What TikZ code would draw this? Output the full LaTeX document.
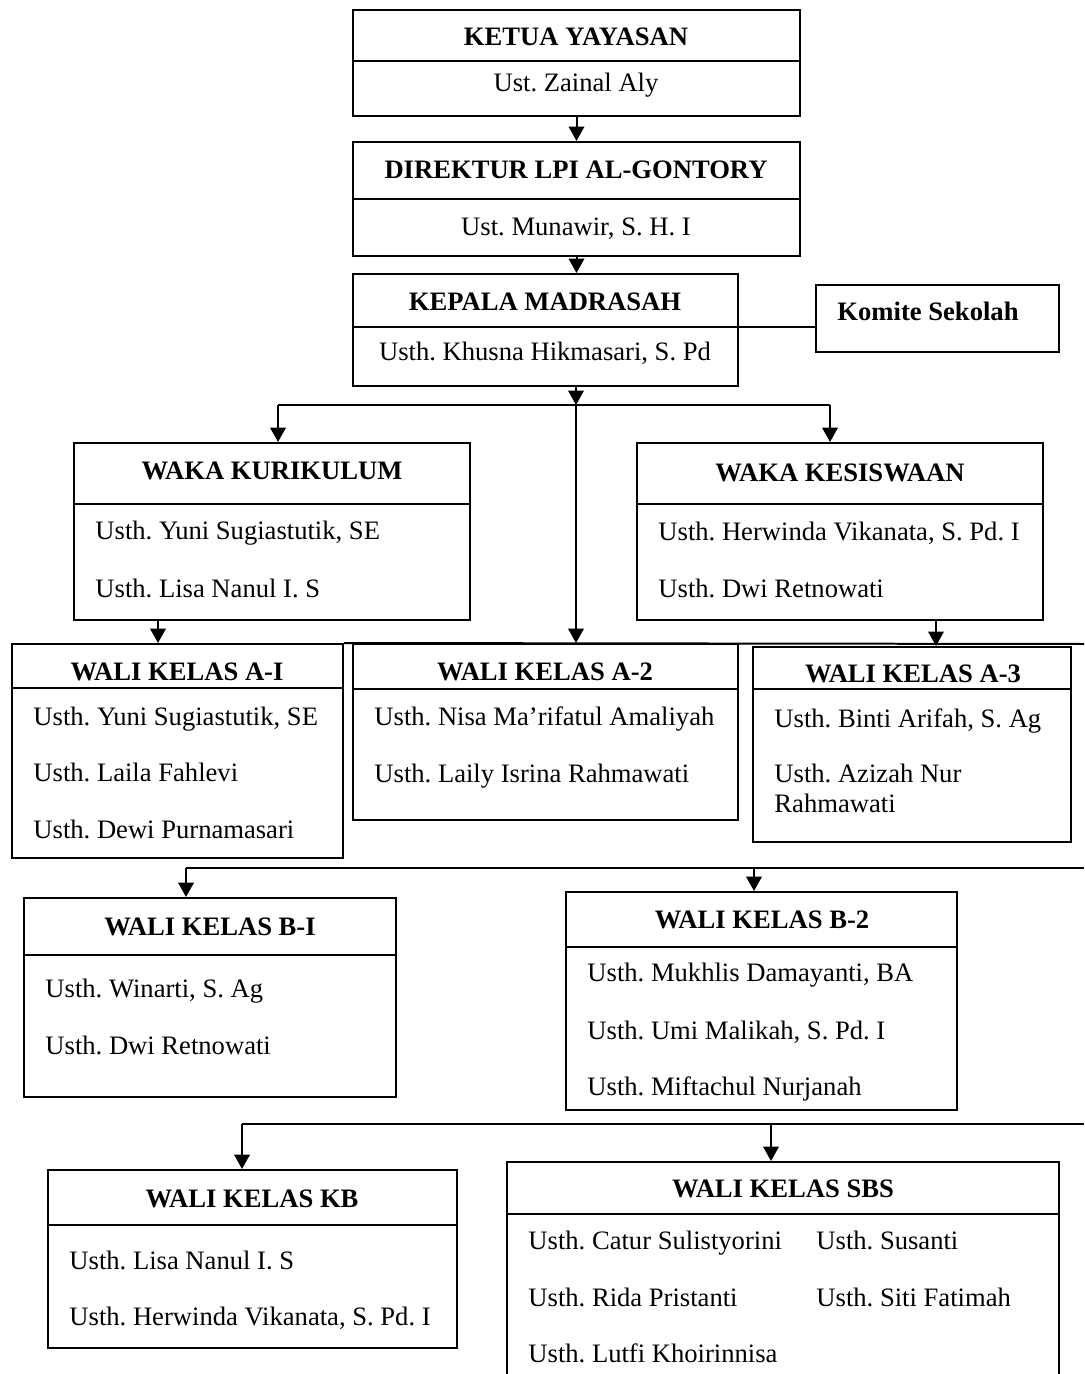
\documentclass[tikz,border=0pt]{standalone}
\usepackage{fontspec}
\setmainfont{Liberation Serif}
\usepackage{tikz}
\usetikzlibrary{arrows.meta,fit}
\frenchspacing

\begin{document}
\begin{tikzpicture}[x=0.451pt, y=-0.451pt,
    font=\fontsize{12}{14}\selectfont,
    box/.style={draw, line width=0.9pt, inner sep=0pt},
    rule/.style={line width=0.9pt},
    title/.style={anchor=base, inner sep=0pt, font=\fontsize{12}{14}\selectfont\bfseries},
    person/.style={anchor=base west, inner sep=0pt},
    arr/.style={line width=0.9pt, -{Triangle[length=6.5pt,width=7pt]}}]
    \useasboundingbox (0,0) rectangle (1084,1374);

    % pimpinan
    \node[box, fit={(353,10) (800,116)}] (ketua) {};
    \draw[rule] (ketua.west |- 0,61) -- (ketua.east |- 0,61);
    \node[title] (ketuaT) at (576,46) {KETUA YAYASAN};
    \node[anchor=base, inner sep=0pt] (ketuaN) at (576,92) {Ust. Zainal Aly};

    \node[box, fit={(353,142) (800,256)}] (dir) {};
    \draw[rule] (dir.west |- 0,199) -- (dir.east |- 0,199);
    \node[title] (dirT) at (576,179) {DIREKTUR LPI AL-GONTORY};
    \node[anchor=base, inner sep=0pt] (dirN) at (576,236) {Ust. Munawir, S. H. I};

    \node[box, fit={(353,274) (738,386)}] (kepala) {};
    \draw[rule] (kepala.west |- 0,327) -- (kepala.east |- 0,327);
    \node[title] (kepalaT) at (545,311) {KEPALA MADRASAH};
    \node[anchor=base, inner sep=0pt] (kepalaN) at (545,361) {Usth. Khusna Hikmasari, S. Pd};

    \node[box, fit={(816,285) (1059,352)}] (komite) {};
    \node[title, anchor=base west] (komiteT) at (837,321) {Komite Sekolah};

    \draw[arr] (ketua.south) -- (dir.north);
    \draw[arr] (dir.south) -- (kepala.north -| dir.south);
    \draw[rule] (kepala.east |- 0,327) -- (komite.west |- 0,327);

    % wakil kepala
    \node[box, fit={(74,443) (470,620)}] (kur) {};
    \draw[rule] (kur.west |- 0,504) -- (kur.east |- 0,504);
    \node[title] (kurT) at (272,479) {WAKA KURIKULUM};
    \node[person] (kur1) at (95,539) {Usth. Yuni Sugiastutik, SE};
    \node[person] (kur2) at (95,597) {Usth. Lisa Nanul I. S};

    \node[box, fit={(637,443) (1043,620)}] (kes) {};
    \draw[rule] (kes.west |- 0,504) -- (kes.east |- 0,504);
    \node[title] (kesT) at (840,481) {WAKA KESISWAAN};
    \node[person] (kes1) at (658,540) {Usth. Herwinda Vikanata, S. Pd. I};
    \node[person] (kes2) at (658,597) {Usth. Dwi Retnowati};

    \coordinate (busA) at (576,405);
    \draw[arr] (kepala.south -| busA) -- (busA);
    \draw[rule] (278,405) -- (830,405);
    \draw[arr] (278,405) -- (kur.north -| 278,0);
    \draw[arr] (830,405) -- (kes.north -| 830,0);

    % wali kelas A
    \node[box, fit={(12,644) (343,858)}] (wa1) {};
    \draw[rule] (wa1.west |- 0,688) -- (wa1.east |- 0,688);
    \node[title] (wa1T) at (177,680) {WALI KELAS A-I};
    \node[person] (wa1a) at (33,725) {Usth. Yuni Sugiastutik, SE};
    \node[person] (wa1b) at (33,781) {Usth. Laila Fahlevi};
    \node[person] (wa1c) at (33,838) {Usth. Dewi Purnamasari};

    \node[box, fit={(353,644) (738,820)}] (wa2) {};
    \draw[rule] (wa2.west |- 0,689) -- (wa2.east |- 0,689);
    \node[title] (wa2T) at (545,680) {WALI KELAS A-2};
    \node[person] (wa2a) at (374,725) {Usth. Nisa Ma’rifatul Amaliyah};
    \node[person] (wa2b) at (374,782) {Usth. Laily Isrina Rahmawati};

    \node[box, fit={(753,647) (1071,842)}] (wa3) {};
    \draw[rule] (wa3.west |- 0,689) -- (wa3.east |- 0,689);
    \node[title] (wa3T) at (913,682) {WALI KELAS A-3};
    \node[person] (wa3a) at (774,727) {Usth. Binti Arifah, S. Ag};
    \node[person] (wa3b) at (774,782) {Usth. Azizah Nur};
    \node[person] (wa3c) at (774,812) {Rahmawati};

    \coordinate (rimA) at (1084,644);
    \draw[rule] (wa1.north east) -- (rimA);
    \draw[arr] (busA) -- (wa2.north -| busA);
    \draw[arr] (kur.south -| 158,0) -- (wa1.north -| 158,0);
    \draw[arr] (kes.south -| 936,0) -- (wa3.north -| 936,0);

    % wali kelas B
    \node[box, fit={(24,898) (396,1097)}] (wb1) {};
    \draw[rule] (wb1.west |- 0,955) -- (wb1.east |- 0,955);
    \node[title] (wb1T) at (210,935) {WALI KELAS B-I};
    \node[person] (wb1a) at (45,997) {Usth. Winarti, S. Ag};
    \node[person] (wb1b) at (45,1054) {Usth. Dwi Retnowati};

    \node[box, fit={(566,892) (957,1110)}] (wb2) {};
    \draw[rule] (wb2.west |- 0,947) -- (wb2.east |- 0,947);
    \node[title] (wb2T) at (762,928) {WALI KELAS B-2};
    \node[person] (wb2a) at (587,981) {Usth. Mukhlis Damayanti, BA};
    \node[person] (wb2b) at (587,1039) {Usth. Umi Malikah, S. Pd. I};
    \node[person] (wb2c) at (587,1095) {Usth. Miftachul Nurjanah};

    \coordinate (busB) at (186,868);
    \coordinate (rimB) at (1084,868);
    \draw[rule] (busB) -- (rimB);
    \draw[arr] (busB) -- (wb1.north -| busB);
    \draw[arr] (754,868) -- (wb2.north -| 754,0);

    % wali kelas KB dan SBS
    \node[box, fit={(48,1170) (457,1348)}] (kb) {};
    \draw[rule] (kb.west |- 0,1225) -- (kb.east |- 0,1225);
    \node[title] (kbT) at (252,1207) {WALI KELAS KB};
    \node[person] (kba) at (69,1269) {Usth. Lisa Nanul I. S};
    \node[person] (kbb) at (69,1325) {Usth. Herwinda Vikanata, S. Pd. I};

    \node[box, fit={(507,1162) (1059,1390)}] (sbs) {};
    \draw[rule] (sbs.west |- 0,1214) -- (sbs.east |- 0,1214);
    \node[title] (sbsT) at (783,1197) {WALI KELAS SBS};
    \node[person] (sbsa) at (528,1249) {Usth. Catur Sulistyorini};
    \node[person] (sbsb) at (816,1249) {Usth. Susanti};
    \node[person] (sbsc) at (528,1306) {Usth. Rida Pristanti};
    \node[person] (sbsd) at (816,1306) {Usth. Siti Fatimah};
    \node[person] (sbse) at (528,1362) {Usth. Lutfi Khoirinnisa};

    \coordinate (busC) at (242,1124);
    \coordinate (rimC) at (1084,1124);
    \draw[rule] (busC) -- (rimC);
    \draw[arr] (busC) -- (kb.north -| busC);
    \draw[arr] (771,1124) -- (sbs.north -| 771,0);
\end{tikzpicture}
\end{document}
